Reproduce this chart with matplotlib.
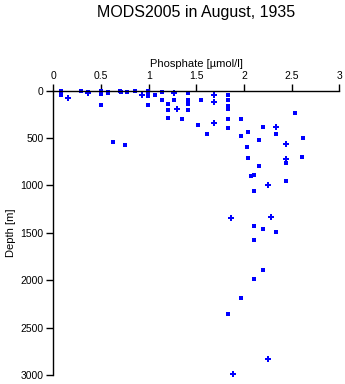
"""
Phosphate profile, MODS2005 stations in August 1935
"""
import matplotlib
matplotlib.use('Agg')
import matplotlib.pyplot as plt

plt.rcParams['font.family'] = ['Liberation Sans', 'DejaVu Sans']

# Station samples drawn as small squares
sq_phosphate = [0.08, 0.08, 0.08, 0.29, 0.36, 0.50, 0.50, 0.50, 0.50, 0.57, 0.57,
                0.63, 0.70, 0.71, 0.75, 0.77, 0.86, 0.99, 0.99, 0.99, 0.99, 0.99,
                1.07, 1.14, 1.14, 1.20, 1.20, 1.20, 1.27, 1.35, 1.41, 1.41, 1.41,
                1.41, 1.52, 1.55, 1.61, 1.83, 1.83, 1.83, 1.83, 1.83, 1.83, 1.97,
                1.97, 2.04, 2.03, 2.04, 2.16, 2.16, 2.20, 2.34, 2.07, 2.11, 2.11,
                2.44, 2.44, 2.54, 2.61, 2.62, 2.11, 2.20, 2.34, 2.11, 2.20, 2.11,
                1.97, 1.83]
sq_depth = [0, 20, 50, 0, 10, 0, 20, 40, 150, 10, 30,
            545, 0, 15, 577, 10, 0, 0, 20, 40, 55, 150,
            50, 10, 100, 145, 200, 293, 103, 303, 30, 95, 145,
            200, 363, 100, 458, 50, 100, 160, 198, 303, 398, 303,
            482, 437, 598, 714, 524, 798, 387, 461, 903, 893, 1058,
            760, 949, 240, 703, 497, 1430, 1461, 1493, 1577, 1889, 1988,
            2191, 2360]

# Samples drawn with plus markers
pl_phosphate = [0.15, 0.36, 0.93, 1.27, 1.30, 1.69, 1.69, 1.69, 2.34, 2.44, 2.44,
                2.25, 1.86, 2.28, 2.25, 1.89]
pl_depth = [82, 30, 50, 30, 198, 50, 125, 345, 387, 566, 724,
            995, 1345, 1335, 2830, 2987]

xticks = [0, 0.5, 1, 1.5, 2, 2.5, 3]
xticklabels = ['0', '0.5', '1', '1.5', '2', '2.5', '3']
yticks = [0, 500, 1000, 1500, 2000, 2500, 3000]

fig = plt.figure(figsize=(3.45, 3.84), dpi=100)
ax = fig.add_axes([0.155, 0.0234, 0.828, 0.7406])

ax.plot(sq_phosphate, sq_depth, linestyle='none', marker='s', markersize=2.3,
        color='#0000ff', markeredgewidth=0, clip_on=False)
ax.plot(pl_phosphate, pl_depth, linestyle='none', marker='P', markersize=4,
        color='#0000ff', markeredgewidth=0, clip_on=False)

ax.set_xlim(0, 3)
ax.set_ylim(3000, 0)
ax.xaxis.set_ticks_position('top')
ax.xaxis.set_label_position('top')
ax.set_xticks(xticks)
ax.set_xticklabels(xticklabels)
ax.set_yticks(yticks)
ax.tick_params(axis='both', direction='out', length=5, width=1, labelsize=7.5, pad=2)

for side in ['right', 'bottom']:
    ax.spines[side].set_visible(False)
for side in ['left', 'top']:
    ax.spines[side].set_linewidth(1)

ax.set_xlabel('Phosphate [µmol/l]', fontsize=8, labelpad=3)
ax.set_ylabel('Depth [m]', fontsize=8, labelpad=3)

fig.text(0.569, 0.968, 'MODS2005 in August, 1935', ha='center', va='center', fontsize=11.5)

plt.savefig('out.png', dpi=100, facecolor='white')
